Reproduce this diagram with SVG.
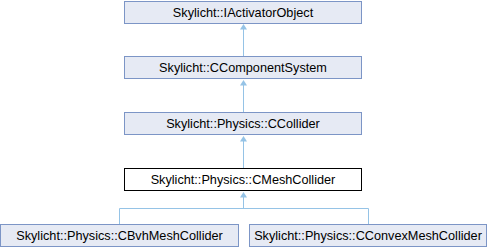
<svg xmlns="http://www.w3.org/2000/svg" width="488" height="248" viewBox="0 0 488 248">
<style>
.box{fill:#E6EAF4;stroke:#7C95C6;stroke-width:1}
.cur{fill:#FFFFFF;stroke:#000000;stroke-width:1}
.lbl{font-family:"Liberation Sans",Arial,sans-serif;font-size:12.7px;fill:#000000;text-anchor:middle}
.edge{fill:none;stroke:#95C3E6;stroke-width:1}
.ah{fill:#95C3E6;stroke:none}
</style>
<g id="connectors">
<path class="edge" d="M243.5,29 V56"/>
<path class="ah" d="M243.5,24 L247,29.5 L240,29.5 Z"/>
<path class="edge" d="M243.5,85 V112"/>
<path class="ah" d="M243.5,80 L247,85.5 L240,85.5 Z"/>
<path class="edge" d="M243.5,141 V168"/>
<path class="ah" d="M243.5,136 L247,141.5 L240,141.5 Z"/>
<path class="edge" d="M243.5,197 V208.5 M119.5,224 V208.5 H368.5 V224"/>
<path class="ah" d="M243.5,192 L247,197.5 L240,197.5 Z"/>
</g>
<g id="IActivatorObject">
<rect class="box" x="124.5" y="1.5" width="237" height="22"/>
<text class="lbl" x="243" y="17">Skylicht::IActivatorObject</text>
</g>
<g id="CComponentSystem">
<rect class="box" x="124.5" y="56.5" width="237" height="22"/>
<text class="lbl" x="243" y="72">Skylicht::CComponentSystem</text>
</g>
<g id="CCollider">
<rect class="box" x="124.5" y="112.5" width="237" height="22"/>
<text class="lbl" x="243" y="128">Skylicht::Physics::CCollider</text>
</g>
<g id="CMeshCollider">
<rect class="cur" x="124.5" y="168.5" width="237" height="22"/>
<text class="lbl" x="243" y="184">Skylicht::Physics::CMeshCollider</text>
</g>
<g id="CBvhMeshCollider">
<rect class="box" x="0.5" y="224.5" width="238" height="22"/>
<text class="lbl" x="119.5" y="240">Skylicht::Physics::CBvhMeshCollider</text>
</g>
<g id="CConvexMeshCollider">
<rect class="box" x="249.5" y="224.5" width="237" height="22"/>
<text class="lbl" x="368" y="240">Skylicht::Physics::CConvexMeshCollider</text>
</g>
</svg>
